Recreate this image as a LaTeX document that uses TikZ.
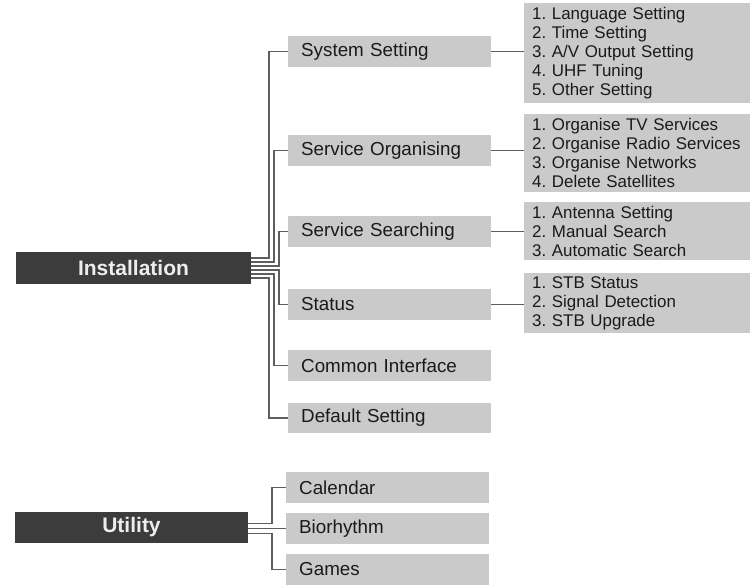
\documentclass[tikz,border=0pt]{standalone}
\usepackage{fontspec}
\setmainfont{Liberation Sans}
\frenchspacing
\hyphenpenalty=10000
\definecolor{darkbox}{HTML}{3C3C3C}
\definecolor{lightbox}{HTML}{CACACA}
\definecolor{linegray}{HTML}{5E5E5E}
\definecolor{txt}{HTML}{1A1A1A}
\begin{document}
\begin{tikzpicture}[x=1pt,y=-1pt,
  topbox/.style={fill=darkbox,draw=none,minimum width=235pt,minimum height=32pt,inner sep=0pt,
    text=white!93!black,font=\fontsize{21}{24}\selectfont\bfseries},
  midbox/.style={fill=lightbox,draw=none,anchor=west,minimum height=31pt,text width=177pt,
    inner xsep=13pt,inner ysep=0pt,align=left,text=txt,font=\fontsize{18.8}{22}\selectfont},
  listbox/.style={fill=lightbox,draw=none,anchor=north west,text width=210pt,inner xsep=8pt,
    inner ysep=0pt,align=left,text=txt,font=\fontsize{16.9}{19}\selectfont},
  conn/.style={draw=linegray,line width=1.5pt}]
\useasboundingbox (0,0) rectangle (755,584);

% main boxes
\node[topbox] (inst) at (133.5,268) {Installation};
\node[topbox,minimum width=233pt,minimum height=31pt] (util) at (131.5,527.5) {Utility};

% installation children
\node[midbox] (sys) at (288,51.5) {System Setting};
\node[midbox] (org) at (288,150.5) {Service Organising};
\node[midbox] (sea) at (288,231.5) {Service Searching};
\node[midbox] (sta) at (288,304.5) {Status};
\node[midbox] (com) at (288,365.5) {Common Interface};
\node[midbox,minimum height=30pt] (def) at (288,418) {Default Setting};

% utility children
\node[midbox] (cal) at (286,487.5) {Calendar};
\node[midbox] (bio) at (286,528.5) {Biorhythm};
\node[midbox] (gam) at (286,569.5) {Games};

% list boxes
\node[listbox,minimum height=100pt] (sysl) at (524,3) {1. Language Setting\\2. Time Setting\\3. A/V Output Setting\\4. UHF Tuning\\5. Other Setting};
\node[listbox,minimum height=78pt] (orgl) at (524,114) {1. Organise TV Services\\2. Organise Radio Services\\3. Organise Networks\\4. Delete Satellites};
\node[listbox,minimum height=58pt] (seal) at (524,202) {1. Antenna Setting\\2. Manual Search\\3. Automatic Search};
\node[listbox,minimum height=60pt] (stal) at (524,273) {1. STB Status\\2. Signal Detection\\3. STB Upgrade};

% installation connectors
\draw[conn] ([yshift=10pt]inst.east) -| ([xshift=-19pt]sys.west) -- (sys.west);
\draw[conn] ([yshift=6pt]inst.east) -| ([xshift=-14pt]org.west) -- (org.west);
\draw[conn] ([yshift=2pt]inst.east) -| ([xshift=-9pt]sea.west) -- (sea.west);
\draw[conn] ([yshift=-2pt]inst.east) -| ([xshift=-9pt]sta.west) -- (sta.west);
\draw[conn] ([yshift=-6pt]inst.east) -| ([xshift=-14pt]com.west) -- (com.west);
\draw[conn] ([yshift=-10pt]inst.east) -| ([xshift=-19pt]def.west) -- (def.west);

% list connectors
\draw[conn] (sys.east) -- (sys.east -| sysl.west);
\draw[conn] (org.east) -- (org.east -| orgl.west);
\draw[conn] (sea.east) -- (sea.east -| seal.west);
\draw[conn] (sta.east) -- (sta.east -| stal.west);

% utility connectors
\draw[conn] ([yshift=4pt]util.east) -| ([xshift=-14pt]cal.west) -- (cal.west);
\draw[conn] (util.east |- bio.west) -- (bio.west);
\draw[conn] ([yshift=-6pt]util.east) -| ([xshift=-14pt]gam.west) -- (gam.west);
\end{tikzpicture}
\end{document}
